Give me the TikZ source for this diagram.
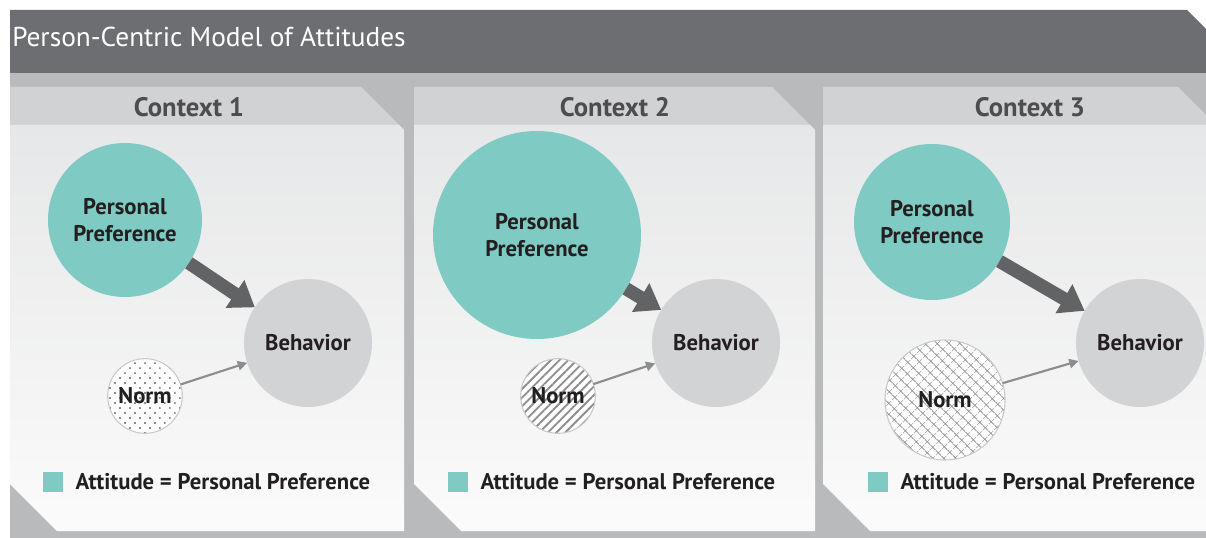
\documentclass[tikz,border=0pt]{standalone}
\usepackage{fontspec}
\setmainfont{PT Sans}
\usetikzlibrary{arrows.meta,patterns.meta,positioning}
\definecolor{modelDark}{RGB}{109,110,113}
\definecolor{modelBand}{RGB}{185,186,188}
\definecolor{modelHead}{RGB}{209,210,212}
\definecolor{modelBodyTop}{RGB}{230,231,232}
\definecolor{modelBodyBot}{RGB}{251,251,251}
\definecolor{modelTeal}{RGB}{127,202,195}
\definecolor{modelGrey}{RGB}{210,211,213}
\definecolor{modelArrow}{RGB}{98,99,101}
\definecolor{modelThin}{RGB}{140,141,143}
\definecolor{modelRim}{RGB}{200,201,203}
\definecolor{modelDot}{RGB}{140,141,143}
\definecolor{modelInk}{RGB}{35,31,32}
\definecolor{modelHeadInk}{RGB}{77,77,79}
\newcommand{\modelTitleFont}{\fontsize{20.5}{24}\selectfont}
\newcommand{\modelHeadFont}{\bfseries\fontsize{20}{24}\selectfont}
\newcommand{\modelLabelFont}{\bfseries\fontsize{17}{20}\selectfont}

\begin{document}
\begin{tikzpicture}[x=0.75pt,y=-0.75pt,
    prefcircle/.style={circle,fill=modelTeal,inner sep=0pt,outer sep=0pt,align=center,text=modelInk,font=\modelLabelFont},
    behcircle/.style={circle,fill=modelGrey,minimum size=96pt,inner sep=0pt,outer sep=0pt,text=modelInk,font=\modelLabelFont},
    normcircle/.style={circle,draw=modelRim,line width=0.8pt,preaction={fill=white},pattern color=modelDot,inner sep=0pt,outer sep=0pt,text=modelInk,font=\modelLabelFont},
    bigarrow/.style={color=modelArrow,line width=10pt,-{Triangle[length=18pt,width=24pt]}},
    thinarrow/.style={color=modelThin,line width=1.6pt,-{Triangle[length=7pt,width=7pt]}},
    keybox/.style={fill=modelTeal,minimum size=15pt,inner sep=0pt},
    keytext/.style={text=modelInk,font=\modelLabelFont,inner sep=0pt},
    headtext/.style={text=modelHeadInk,font=\modelHeadFont,inner sep=0pt}]
  \useasboundingbox (0,0) rectangle (1206,538);
  \clip (0,0) rectangle (1206,538);

  % Title bar and backdrop
  \fill[modelBand] (10,73) rectangle (1206,538);
  \fill[modelDark] (10,10) -- (1187,10) -- (1250,73) -- (10,73) -- cycle;
  \node[anchor=base west,text=white,font=\modelTitleFont,inner sep=0pt] (title) at (12,47) {Person-Centric Model of Attitudes};

  % Panels
  \foreach \xa/\xb in {10/404, 414/815, 823/1221} {
    \fill[modelHead] (\xa,87) -- (\xb-43,87) -- (\xb,130) -- (\xa,130) -- cycle;
    \shade[top color=modelBodyTop,bottom color=modelBodyBot] (\xa,125) -- (\xb-5,125) -- (\xb,130) -- (\xb,531) -- (\xa+47,531) -- (\xa,484) -- cycle;
  }
  \node[headtext] (ctx1) at (189,107) {Context 1};
  \node[headtext] (ctx2) at (615,107) {Context 2};
  \node[headtext] (ctx3) at (1030,107) {Context 3};

  % Context 1
  \node[prefcircle,minimum size=115.5pt] (pp1) at (125,220) {Personal\\Preference};
  \node[behcircle] (beh1) at (308,343) {Behavior};
  \node[normcircle,minimum size=56pt,pattern={Dots[distance=5.3pt,radius=0.9pt,angle=45]}] (norm1) at (145,396) {Norm};
  \draw[bigarrow] (pp1) -- (beh1);
  \draw[thinarrow] (norm1) -- (beh1);

  % Context 2
  \node[prefcircle,minimum size=156pt] (pp2) at (537,235) {Personal\\Preference};
  \node[behcircle] (beh2) at (716,343) {Behavior};
  \node[normcircle,minimum size=56pt,pattern={Lines[angle=45,distance=4.6pt,line width=1.4pt]},pattern color=modelThin] (norm2) at (558,396) {Norm};
  \draw[bigarrow] (pp2) -- (beh2);
  \draw[thinarrow] (norm2) -- (beh2);

  % Context 3
  \node[prefcircle,minimum size=117pt] (pp3) at (932,222) {Personal\\Preference};
  \node[behcircle] (beh3) at (1140,343) {Behavior};
  \node[normcircle,minimum size=90pt,pattern={Hatch[angle=45,distance=6.4pt,line width=0.5pt]}] (norm3) at (945,400) {Norm};
  \draw[bigarrow] (pp3) -- (beh3);
  \draw[thinarrow] (norm3) -- (beh3);

  % Legends
  \node[keybox] (key1) at (53,482) {};
  \node[keytext,right=9pt of key1] (keylbl1) {Attitude = Personal Preference};
  \node[keybox] (key2) at (458,482) {};
  \node[keytext,right=9pt of key2] (keylbl2) {Attitude = Personal Preference};
  \node[keybox] (key3) at (878,482) {};
  \node[keytext,right=9pt of key3] (keylbl3) {Attitude = Personal Preference};
\end{tikzpicture}
\end{document}
